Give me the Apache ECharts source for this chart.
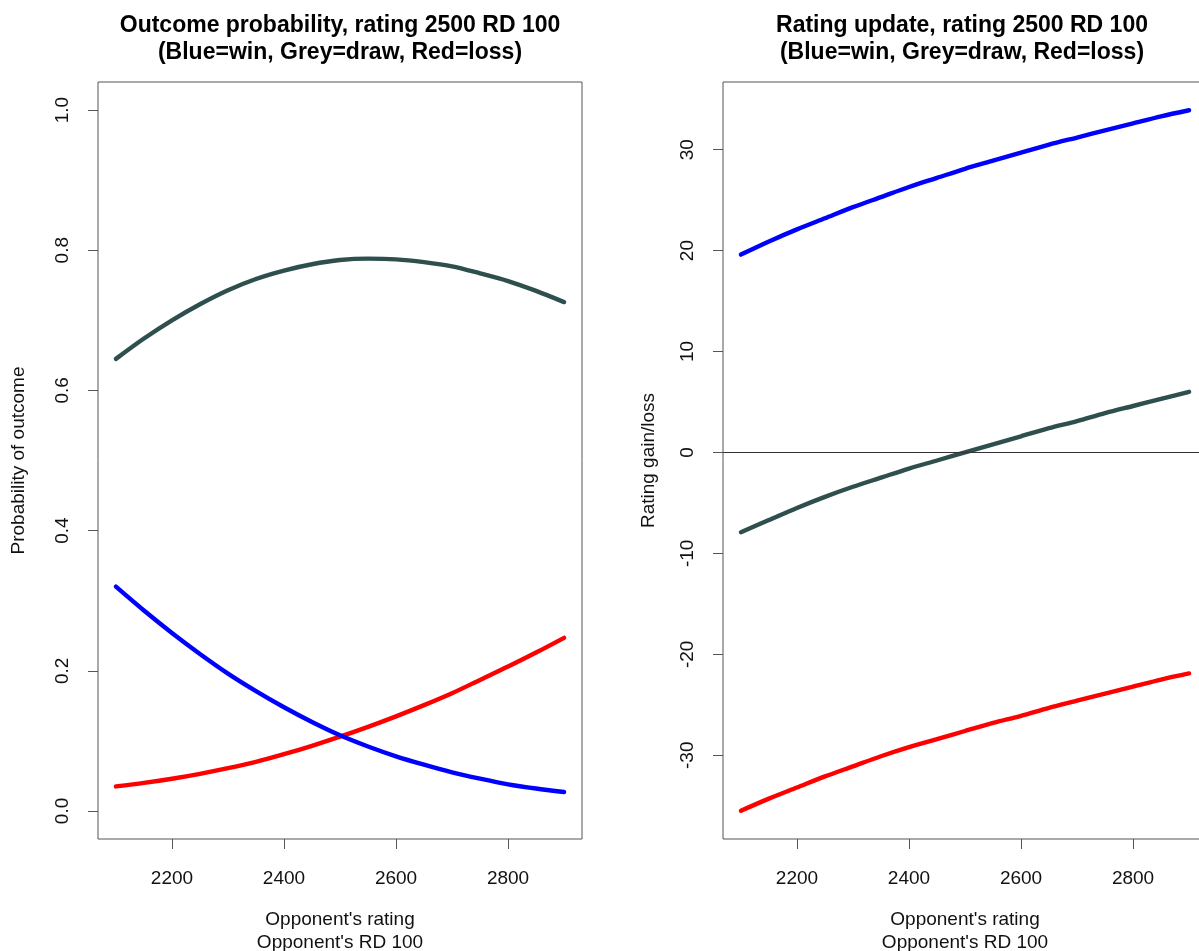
<!DOCTYPE html>
<html><head><meta charset="utf-8">
<script src="https://cdn.jsdelivr.net/npm/echarts@6/dist/echarts.min.js"></script>
<style>html,body{margin:0;padding:0;background:#fff}#c{width:1199px;height:951px}</style>
</head><body><div id="c"></div>
<script>
// ---- data ----
const opponentRating = [2100, 2150, 2200, 2250, 2300, 2350, 2400, 2450, 2500, 2550, 2600, 2650, 2700, 2750, 2800, 2850, 2900];
const probWin  = [0.320, 0.286, 0.254, 0.224, 0.196, 0.171, 0.148, 0.127, 0.108, 0.092, 0.078, 0.066, 0.055, 0.046, 0.038, 0.032, 0.027];
const probDraw = [0.645, 0.674, 0.700, 0.723, 0.743, 0.759, 0.771, 0.780, 0.786, 0.788, 0.787, 0.783, 0.777, 0.767, 0.756, 0.742, 0.726];
const probLoss = [0.035, 0.040, 0.046, 0.053, 0.061, 0.070, 0.081, 0.093, 0.106, 0.120, 0.135, 0.151, 0.168, 0.187, 0.206, 0.226, 0.247];
const gainWin  = [19.6, 20.9, 22.1, 23.2, 24.3, 25.3, 26.3, 27.2, 28.1, 28.9, 29.7, 30.5, 31.2, 31.9, 32.6, 33.3, 33.9];
const gainDraw = [-7.9, -6.7, -5.5, -4.4, -3.4, -2.5, -1.6, -0.8, 0.0, 0.8, 1.6, 2.4, 3.1, 3.9, 4.6, 5.3, 6.0];
const gainLoss = [-35.5, -34.3, -33.2, -32.1, -31.1, -30.1, -29.2, -28.4, -27.6, -26.8, -26.1, -25.3, -24.6, -23.9, -23.2, -22.5, -21.9];
const xTicks = [2200, 2400, 2600, 2800];
const probTicks = [0, 0.2, 0.4, 0.6, 0.8, 1.0];
const gainTicks = [-30, -20, -10, 0, 10, 20, 30];
const titles = [
  'Outcome probability, rating 2500 RD 100\n(Blue=win, Grey=draw, Red=loss)',
  'Rating update, rating 2500 RD 100\n(Blue=win, Grey=draw, Red=loss)'
];
const xName = "Opponent's rating\nOpponent's RD 100";
const yNames = ['Probability of outcome', 'Rating gain/loss'];

// ---- styling ----
const FONT = 'Liberation Sans, Arial, sans-serif';
const FS = 19;
const C_WIN = '#0000ff', C_DRAW = '#2f4f4f', C_LOSS = '#ff0000';
const FRAME = '#555555';
const pair = arr => opponentRating.map((x, i) => [x, arr[i]]);

function xAxis(gridIndex) {
  return {
    type: 'value', gridIndex, min: 2068, max: 2932,
    name: xName, nameLocation: 'middle', nameGap: 69,
    nameTextStyle: { fontFamily: FONT, fontSize: FS, color: '#111', lineHeight: 23 },
    axisLine: { show: false, onZero: false },
    axisTick: { show: true, length: 10, customValues: xTicks, lineStyle: { color: FRAME, width: 1 } },
    axisLabel: { customValues: xTicks, margin: 30, formatter: v => String(Math.round(v)),
      fontFamily: FONT, fontSize: FS, color: '#111' },
    splitLine: { show: false }
  };
}
function yAxis(gridIndex, min, max, ticks, fmt, name, gap) {
  return {
    type: 'value', gridIndex, min, max,
    name, nameLocation: 'middle', nameGap: gap, nameRotate: 90,
    nameTextStyle: { fontFamily: FONT, fontSize: FS, color: '#111' },
    axisLine: { show: false, onZero: false },
    axisTick: { show: true, length: 10, customValues: ticks, lineStyle: { color: FRAME, width: 1 } },
    axisLabel: { customValues: ticks, rotate: 90, margin: 26, formatter: fmt,
      fontFamily: FONT, fontSize: FS, color: '#111' },
    splitLine: { show: false }
  };
}
function line(name, data, color, xi, extra) {
  return Object.assign({
    name, type: 'line', xAxisIndex: xi, yAxisIndex: xi, data,
    showSymbol: false, smooth: 0.3, silent: true,
    lineStyle: { color, width: 4.4, cap: 'round' }, itemStyle: { color }
  }, extra || {});
}

const chart = echarts.init(document.getElementById('c'), null, { renderer: 'canvas' });
chart.setOption({
  backgroundColor: '#ffffff',
  animation: false,
  grid: [
    { left: 98, top: 82, width: 484, height: 757, show: true, borderColor: FRAME, borderWidth: 1,
      backgroundColor: 'transparent', outerBoundsMode: 'none', containLabel: false },
    { left: 723, top: 82, width: 484, height: 757, show: true, borderColor: FRAME, borderWidth: 1,
      backgroundColor: 'transparent', outerBoundsMode: 'none', containLabel: false }
  ],
  xAxis: [xAxis(0), xAxis(1)],
  yAxis: [
    yAxis(0, -0.04, 1.04, probTicks, v => v.toFixed(1), yNames[0], 70),
    yAxis(1, -38.3, 36.7, gainTicks, v => String(Math.round(v)), yNames[1], 65)
  ],
  graphic: [
    { type: 'text', x: 340, y: 12, style: { text: titles[0], font: 'bold 23px ' + FONT, fill: '#000', textAlign: 'center', textVerticalAlign: 'top', lineHeight: 27 } },
    { type: 'text', x: 962, y: 12, style: { text: titles[1], font: 'bold 23px ' + FONT, fill: '#000', textAlign: 'center', textVerticalAlign: 'top', lineHeight: 27 } }
  ],
  series: [
    line('Draw', pair(probDraw), C_DRAW, 0),
    line('Loss', pair(probLoss), C_LOSS, 0),
    line('Win', pair(probWin), C_WIN, 0),
    line('Win', pair(gainWin), C_WIN, 1),
    line('Draw', pair(gainDraw), C_DRAW, 1, {
      markLine: { silent: true, symbol: ['none', 'none'], label: { show: false },
        lineStyle: { color: '#333', width: 1, type: 'solid' }, data: [{ yAxis: 0 }] }
    }),
    line('Loss', pair(gainLoss), C_LOSS, 1)
  ]
});
</script>
</body></html>
